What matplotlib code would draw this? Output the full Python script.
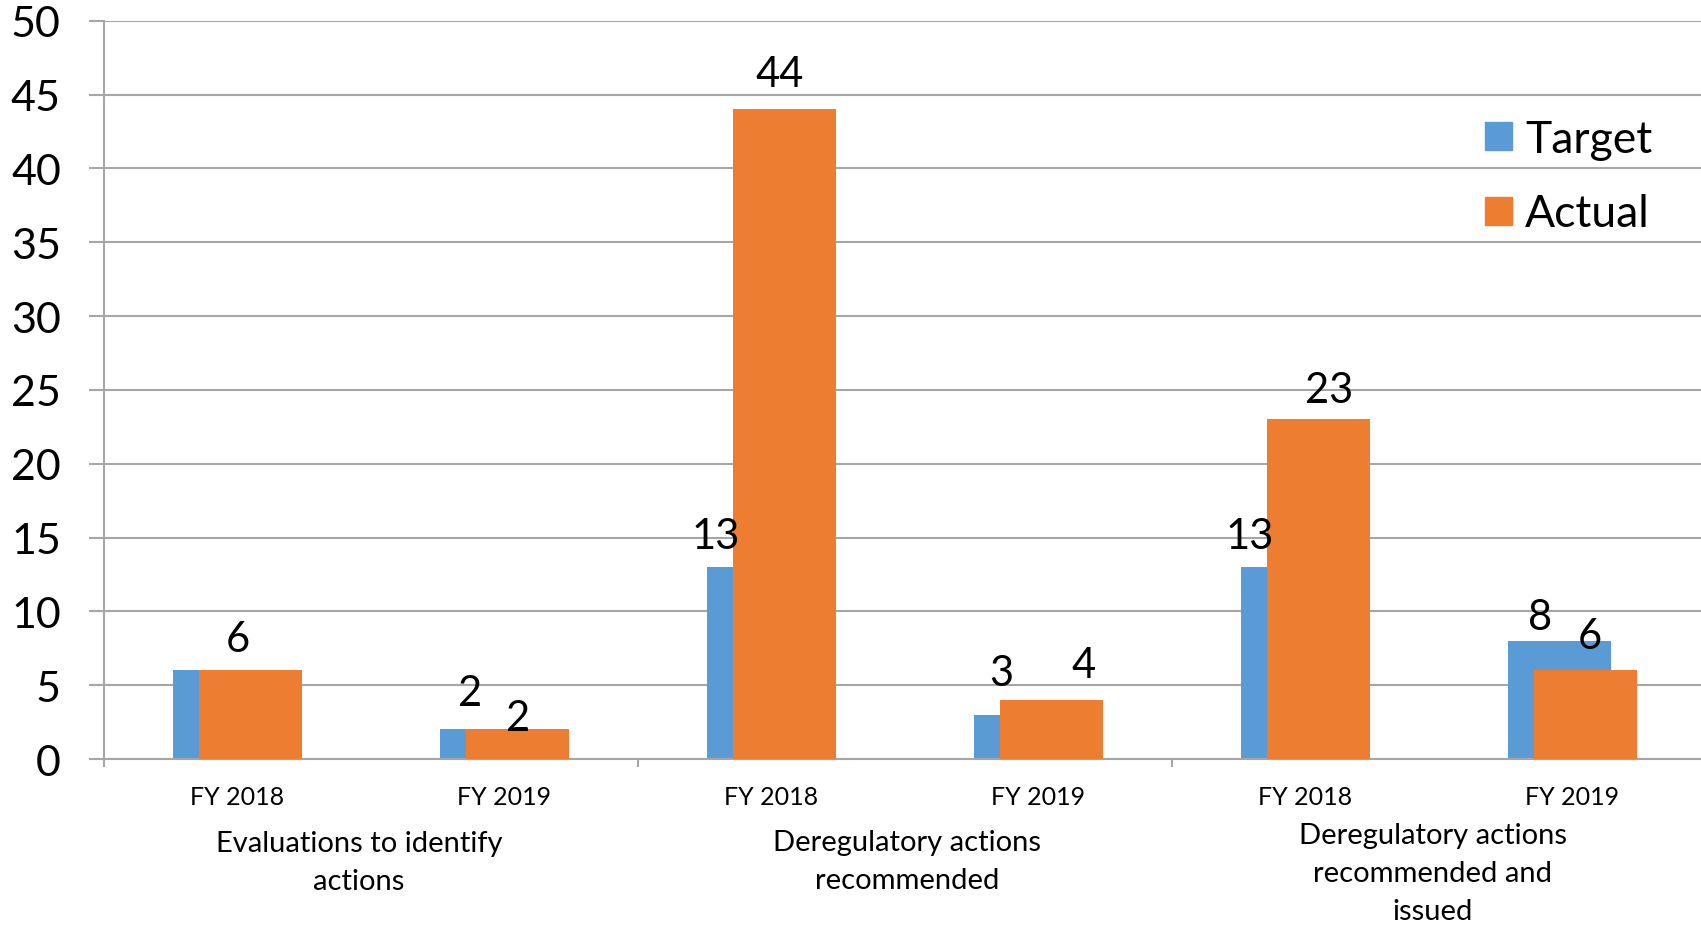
import numpy as np
import matplotlib
matplotlib.use('Agg')
import matplotlib.pyplot as plt
from matplotlib.patches import Patch

plt.rcParams['font.family'] = ['Lato', 'DejaVu Sans']

# data
years = ['FY 2018', 'FY 2019', 'FY 2018', 'FY 2019', 'FY 2018', 'FY 2019']
groups = ['Evaluations to identify\nactions',
          'Deregulatory actions\nrecommended',
          'Deregulatory actions\nrecommended and\nissued']
target = [6, 2, 13, 3, 13, 8]
actual = [6, 2, 44, 4, 23, 6]

# label nudges (x in category units, y in pixels above bar top)
tgt_dx = [0.0, -0.13, -0.21, -0.14, -0.21, -0.12]
act_dx = [0.0, 0.05, 0.03, 0.17, 0.09, 0.065]
tgt_dy = [31, 36, 31, 42, 31, 24]
act_dy = [31, 11, 35, 35, 29, 34]
grp_dx = [-0.045, 0.008, -0.024]
grp_dy = [-71, -70, -63]

blue = '#5B9BD5'
orange = '#ED7D31'
grid = '#A6A6A6'

fig = plt.figure(figsize=(17.01, 9.29), dpi=100)
ax = fig.add_axes([0.0611, 0.1819, 0.9418, 0.7947])

x = np.arange(len(years))
w = 0.386
ax.bar(x - 0.048, target, w, color=blue, zorder=2)
ax.bar(x + 0.049, actual, w, color=orange, zorder=3)

for i in range(len(x)):
    ax.annotate(str(target[i]), (x[i] + tgt_dx[i], target[i]), xytext=(0, tgt_dy[i]),
                textcoords='offset pixels', ha='center', va='center', fontsize=30, zorder=5)
    if i != 0:
        ax.annotate(str(actual[i]), (x[i] + act_dx[i], actual[i]), xytext=(0, act_dy[i]),
                    textcoords='offset pixels', ha='center', va='center', fontsize=30, zorder=5)

ax.set_xlim(-0.5, 5.5)
ax.set_ylim(0, 50)
ax.set_yticks(np.arange(0, 51, 5))
ax.yaxis.grid(True, color=grid, linewidth=1.5, zorder=0)
ax.set_axisbelow(True)
ax.tick_params(axis='y', length=11, width=1.5, color=grid, pad=20, labelsize=31)

ax.set_xticks(x)
ax.set_xticklabels(years)
ax.set_xticks([-0.5, 1.5, 3.5], minor=True)
ax.tick_params(axis='x', which='major', length=0, pad=19, labelsize=18)
ax.tick_params(axis='x', which='minor', length=6, width=1.5, color=grid)

for s in ['top', 'right']:
    ax.spines[s].set_visible(False)
for s in ['left', 'bottom']:
    ax.spines[s].set_color(grid)
    ax.spines[s].set_linewidth(1.5)

for k, g in enumerate(groups):
    ax.annotate(g, (2 * k + 0.5 + grp_dx[k], 0), xycoords=('data', 'axes fraction'),
                xytext=(0, grp_dy[k]), textcoords='offset pixels',
                ha='center', va='top', fontsize=21, linespacing=1.58)

handles = [Patch(color=blue, label='Target'), Patch(color=orange, label='Actual')]
ax.legend(handles=handles, loc='center left', bbox_to_anchor=(0.873, 0.809),
          bbox_transform=fig.transFigure, frameon=False, fontsize=32,
          handlelength=0.6, handleheight=0.6, handletextpad=0.3,
          labelspacing=0.76, borderpad=0, borderaxespad=0)

fig.savefig('out.png', dpi=100)
